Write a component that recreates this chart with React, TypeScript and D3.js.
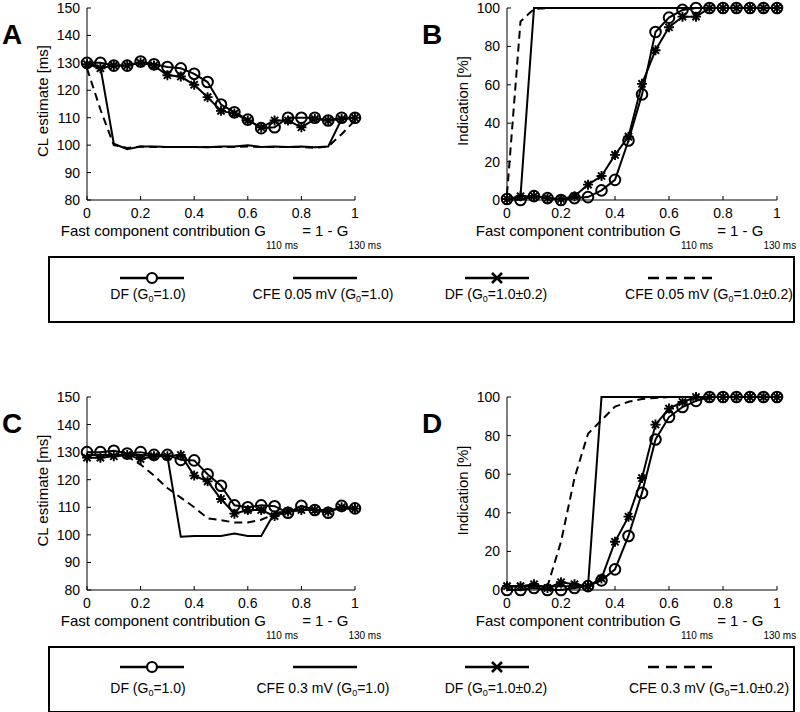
import React from "react";
import * as d3 from "d3";

// fast component contribution G110
const xValues = [0, 0.05, 0.1, 0.15, 0.2, 0.25, 0.3, 0.35, 0.4, 0.45, 0.5, 0.55, 0.6, 0.65, 0.7, 0.75, 0.8, 0.85, 0.9, 0.95, 1];

// panel A - CL estimate, CFE 0.05 mV
const dfA = [130, 130, 129, 129, 130.5, 129.5, 128.5, 128, 126, 123, 114.8, 112, 109.3, 106.2, 106.5, 110, 110, 110, 109, 110, 110];
const dfSdA = [129.5, 128, 129, 129, 130, 129, 125.5, 125, 122, 117.5, 112.5, 111.5, 109, 106.5, 109, 109, 106.5, 109.5, 109, 109.5, 110];
const cfeA = [130, 128.5, 100.5, 98.5, 99.5, 99.5, 99.3, 99.3, 99.3, 99.2, 99.5, 99.5, 100, 99.3, 99.5, 99.3, 99.5, 99.2, 99.5, 109.5, 110];
const cfeSdA = [128, 113, 100, 99, 99.5, 99.3, 99.3, 99.3, 99.3, 99.3, 99.3, 99.3, 99.5, 99.3, 99.3, 99.3, 99.3, 99, 99.5, 104, 109];

// panel B - indication, CFE 0.05 mV
const dfB = [0.5, 0, 2, 1, 0, 1, 1.5, 5, 10.5, 31, 55, 87.5, 95, 99, 100, 100, 100, 100, 100, 100, 100];
const dfSdB = [0.5, 2, 2, 1, 0.5, 2, 8, 12.5, 23.5, 33, 60.5, 78, 90, 95.5, 95.5, 100, 100, 100, 100, 100, 100];
const cfeB = [0, 2, 100, 100, 100, 100, 100, 100, 100, 100, 100, 100, 100, 100, 100, 100, 100, 100, 100, 100, 100];
const cfeSdB = [3, 93, 99.5, 100, 100, 100, 100, 100, 100, 100, 100, 100, 100, 100, 100, 100, 100, 100, 100, 100, 100];

// panel C - CL estimate, CFE 0.3 mV
const dfC = [130, 130, 130.5, 129.5, 130, 129, 129, 127.2, 127, 122, 117.8, 110.7, 110, 110.7, 110.4, 108, 110.5, 109, 108, 110.5, 109.6];
const dfSdC = [128, 128, 128.5, 129, 127.5, 128.5, 128.5, 129, 121.5, 119.4, 113, 107.7, 109, 109, 106.8, 108.5, 109, 109, 108.5, 110, 109.5];
const cfeC = [129, 129, 129, 129, 129, 128.7, 128.5, 99.3, 99.6, 99.6, 99.6, 100.5, 99.6, 99.6, 108, 108.5, 109, 109, 109, 109.5, 109.5];
const cfeSdC = [129, 129, 129, 128.5, 125.5, 121.5, 117, 113.5, 110, 106, 105.3, 104.5, 104.5, 105.5, 107.5, 108.5, 109, 109, 109, 109.5, 109.5];

// panel D - indication, CFE 0.3 mV
const dfD = [0, 0, 1, 0, 0, 1, 2, 5, 10.7, 28, 50.3, 78, 89.6, 94.8, 98, 100, 100, 100, 100, 100, 100];
const dfSdD = [2, 2, 3, 1, 4, 3, 2, 6, 25, 38, 58, 85.7, 94, 97.4, 100, 100, 100, 100, 100, 100, 100];
const cfeD = [2, 2, 2, 2, 2, 2, 2, 100, 100, 100, 100, 100, 100, 100, 100, 100, 100, 100, 100, 100, 100];
const cfeSdD = [2, 2, 2, 2, 25, 58, 81, 88, 95, 97.5, 99, 99.5, 100, 100, 100, 100, 100, 100, 100, 100, 100];

const xTicks = [0, 0.2, 0.4, 0.6, 0.8, 1];
const clTicks = [80, 90, 100, 110, 120, 130, 140, 150];
const indTicks = [0, 20, 40, 60, 80, 100];

const legendTop = [
  { pre: "DF (G", sub: "0", post: "=1.0)" },
  { pre: "CFE 0.05 mV (G", sub: "0", post: "=1.0)" },
  { pre: "DF (G", sub: "0", post: "=1.0\u00b10.2)" },
  { pre: "CFE 0.05 mV (G", sub: "0", post: "=1.0\u00b10.2)" },
];
const legendBottom = [
  { pre: "DF (G", sub: "0", post: "=1.0)" },
  { pre: "CFE 0.3 mV (G", sub: "0", post: "=1.0)" },
  { pre: "DF (G", sub: "0", post: "=1.0\u00b10.2)" },
  { pre: "CFE 0.3 mV (G", sub: "0", post: "=1.0\u00b10.2)" },
];

const FONT = "'Liberation Sans', Arial, Helvetica, sans-serif";
const LW = 2;

function Circle({ x, y }) {
  return <circle cx={x} cy={y} r={5.3} fill="none" stroke="black" strokeWidth={2} />;
}

function Star({ x, y }) {
  const s = 5;
  const d = s * 0.72;
  return (
    <path
      d={`M${x - s},${y}H${x + s}M${x},${y - s}V${y + s}M${x - d},${y - d}L${x + d},${y + d}M${x - d},${y + d}L${x + d},${y - d}`}
      stroke="black"
      strokeWidth={1.9}
    />
  );
}

function Panel({ letter, x0, x1, yTop, yBot, domain, yTicks, ylabel, df, dfSd, cfe, cfeSd, labelShift = 0 }) {
  const x = d3.scaleLinear().domain([0, 1]).range([x0, x1]);
  const y = d3.scaleLinear().domain(domain).range([yBot, yTop]);
  const line = d3
    .line<number>()
    .x((d, i) => x(xValues[i]))
    .y((d) => y(d));
  const midY = (yTop + yBot) / 2 - 3;
  const midX = (x0 + x1) / 2 + labelShift;
  return (
    <g>
      <text x={x0 - 85} y={yTop + 36} fontFamily={FONT} fontWeight="bold" fontSize={28}>
        {letter}
      </text>
      {/* axes */}
      <line x1={x0} x2={x0} y1={yTop} y2={yBot} stroke="black" strokeWidth={1} />
      <line x1={x0} x2={x1} y1={yBot} y2={yBot} stroke="black" strokeWidth={1} />
      {yTicks.map((t) => (
        <g key={"y" + t}>
          <line x1={x0} x2={x0 + 4} y1={y(t)} y2={y(t)} stroke="black" />
          <text x={x0 - 7} y={y(t) + 5} textAnchor="end" fontFamily={FONT} fontSize={14}>
            {t}
          </text>
        </g>
      ))}
      {xTicks.map((t) => (
        <g key={"x" + t}>
          <line x1={x(t)} x2={x(t)} y1={yBot} y2={yBot - 4} stroke="black" />
          <text x={x(t)} y={yBot + 18} textAnchor="middle" fontFamily={FONT} fontSize={14}>
            {t}
          </text>
        </g>
      ))}
      <text
        transform={`translate(${x0 - 39},${midY}) rotate(-90)`}
        textAnchor="middle"
        fontFamily={FONT}
        fontSize={15}
      >
        {ylabel}
      </text>
      <text x={midX} y={yBot + 36} textAnchor="middle" fontFamily={FONT} fontSize={15}>
        Fast component contribution G
        <tspan fontSize={10} dy={13}>110 ms</tspan>
        <tspan dy={-13}> = 1 - G</tspan>
        <tspan fontSize={10} dy={13}>130 ms</tspan>
      </text>
      {/* series */}
      <path d={line(df) || ""} fill="none" stroke="black" strokeWidth={LW} />
      {df.map((v, i) => (
        <Circle key={"c" + i} x={x(xValues[i])} y={y(v)} />
      ))}
      <path d={line(cfe) || ""} fill="none" stroke="black" strokeWidth={LW} />
      <path d={line(dfSd) || ""} fill="none" stroke="black" strokeWidth={LW} />
      {dfSd.map((v, i) => (
        <Star key={"s" + i} x={x(xValues[i])} y={y(v)} />
      ))}
      <path d={line(cfeSd) || ""} fill="none" stroke="black" strokeWidth={LW} strokeDasharray="8,5" />
    </g>
  );
}

const lineCenters = [152, 325, 497, 680];
const textCenters = [148, 323, 496, 709];

function Legend({ top, lineY, textY, labels }) {
  return (
    <g>
      <rect x={49} y={top} width={745} height={65} fill="none" stroke="black" strokeWidth={2} />
      {labels.map((lab, i) => {
        const c = lineCenters[i];
        return (
          <g key={i}>
            <line
              x1={c - 32}
              x2={c + 32}
              y1={lineY}
              y2={lineY}
              stroke="black"
              strokeWidth={2.5}
              strokeDasharray={i === 3 ? "11,7" : undefined}
            />
            {i === 0 && <circle cx={c} cy={lineY} r={5} fill="white" stroke="black" strokeWidth={2.2} />}
            {i === 2 && (
              <path
                d={`M${c - 5},${lineY - 5}L${c + 5},${lineY + 5}M${c - 5},${lineY + 5}L${c + 5},${lineY - 5}`}
                stroke="black"
                strokeWidth={2.6}
              />
            )}
            <text x={textCenters[i]} y={textY} textAnchor="middle" fontFamily={FONT} fontSize={14}>
              {lab.pre}
              <tspan fontSize={9} dy={3}>{lab.sub}</tspan>
              <tspan dy={-3}>{lab.post}</tspan>
            </text>
          </g>
        );
      })}
    </g>
  );
}

export default function App() {
  return (
    <svg width={800} height={712} style={{ position: "absolute", left: 0, top: 0, background: "white" }}>
      <rect width={800} height={712} fill="white" />
      <Panel letter="A" x0={87} x1={355} yTop={8} yBot={200} domain={[80, 150]} yTicks={clTicks}
        ylabel="CL estimate [ms]" df={dfA} dfSd={dfSdA} cfe={cfeA} cfeSd={cfeSdA} />
      <Panel letter="B" x0={507} x1={777} yTop={8} yBot={200} domain={[0, 100]} yTicks={indTicks}
        ylabel="Indication [%]" df={dfB} dfSd={dfSdB} cfe={cfeB} cfeSd={cfeSdB} labelShift={-6} />
      <Legend top={257} lineY={278} textY={299} labels={legendTop} />
      <Panel letter="C" x0={87} x1={355} yTop={397} yBot={590} domain={[80, 150]} yTicks={clTicks}
        ylabel="CL estimate [ms]" df={dfC} dfSd={dfSdC} cfe={cfeC} cfeSd={cfeSdC} />
      <Panel letter="D" x0={507} x1={777} yTop={397} yBot={590} domain={[0, 100]} yTicks={indTicks}
        ylabel="Indication [%]" df={dfD} dfSd={dfSdD} cfe={cfeD} cfeSd={cfeSdD} labelShift={-6} />
      <Legend top={647} lineY={667} textY={693} labels={legendBottom} />
    </svg>
  );
}
